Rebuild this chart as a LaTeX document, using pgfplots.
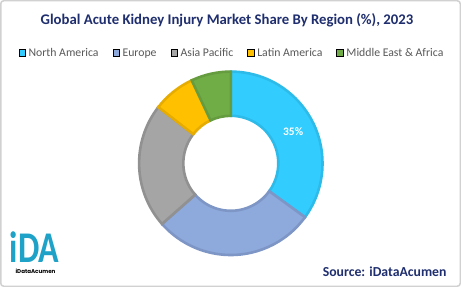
\documentclass[border=0pt]{standalone}
\usepackage{pgfplots}
\pgfplotsset{compat=1.18}
\usepackage{pgfplotstable}
\usepackage{fontspec}
\setmainfont{Carlito}
\newfontfamily\logofont{Poppins}
\definecolor{titleblue}{HTML}{1F2E6E}
\definecolor{legtext}{HTML}{595959}
\definecolor{logoc}{HTML}{1FA2C8}
\definecolor{fill0}{HTML}{33CCFF}\definecolor{line0}{HTML}{2DBBEA}
\definecolor{fill1}{HTML}{8EA9DB}\definecolor{line1}{HTML}{7D96C6}
\definecolor{fill2}{HTML}{A5A5A5}\definecolor{line2}{HTML}{919191}
\definecolor{fill3}{HTML}{FFC000}\definecolor{line3}{HTML}{E6AC00}
\definecolor{fill4}{HTML}{70AD47}\definecolor{line4}{HTML}{659C40}
\pgfplotstableread{
region value
NorthAmerica 35
Europe 28.5
AsiaPacific 22
LatinAmerica 7.5
MiddleEastAfrica 7
}\sharetable
\def\cum{0}%
\foreach \i in {0,...,4}{%
  \pgfplotstablegetelem{\i}{value}\of\sharetable
  \pgfmathsetmacro\angs{90-\cum*3.6}%
  \pgfmathsetmacro\ange{90-(\cum+\pgfplotsretval)*3.6}%
  \expandafter\xdef\csname angA\i\endcsname{\angs}%
  \expandafter\xdef\csname angB\i\endcsname{\ange}%
  \pgfmathsetmacro\newcum{\cum+\pgfplotsretval}%
  \xdef\cum{\newcum}%
}%
\begin{document}
\begin{tikzpicture}
\useasboundingbox (0,0) rectangle (461bp,287bp);
\fill[white] (0,0) rectangle (461bp,287bp);
\draw[black!18, line width=1.5bp, rounded corners=3bp] (0.75bp,0.75bp) rectangle (460.25bp,286.25bp);
\node[font=\bfseries\fontsize{14.8}{17}\selectfont, text=titleblue] at (227bp,266.3bp)
  {Global Acute Kidney Injury Market Share By Region (\%), 2023};
\begin{axis}[
  at={(230.8bp,123.7bp)}, anchor=center,
  hide axis, scale only axis, width=186bp, height=186bp,
  xmin=-1, xmax=1, ymin=-1, ymax=1, clip=false,
  legend columns=5,
  legend image code/.code={\fill[#1] (0bp,-3.3bp) rectangle (6.6bp,3.3bp);},
  legend style={at={(0.505,1.093)}, anchor=center, draw=none, fill=none,
    font=\fontsize{11.8}{13}\selectfont, text=legtext,
    /tikz/every even column/.append style={column sep=12.5bp},
    nodes={inner sep=1.5bp}, legend cell align=left},
  legend style={/tikz/every odd column/.append style={column sep=1.5bp}},
]
\pgfplotsinvokeforeach{0,...,4}{
  \filldraw[fill=fill#1, draw=line#1, line width=2.6bp]
    (axis cs:0,0) ++(\csname angA#1\endcsname:91.7bp)
    arc[start angle=\csname angA#1\endcsname, end angle=\csname angB#1\endcsname, radius=91.7bp]
    -- ++(\csname angB#1\endcsname:-44.2bp)
    arc[start angle=\csname angB#1\endcsname, end angle=\csname angA#1\endcsname, radius=47.5bp]
    -- cycle;
}
\node[text=white, font=\bfseries\fontsize{11.5}{13}\selectfont] at (axis cs:0,0) [shift={(27:70bp)}] {35\%};
\addlegendimage{fill=fill0}\addlegendentry{North America}
\addlegendimage{fill=fill1}\addlegendentry{Europe}
\addlegendimage{fill=fill2}\addlegendentry{Asia Pacific}
\addlegendimage{fill=fill3}\addlegendentry{Latin America}
\addlegendimage{fill=fill4}\addlegendentry{Middle East \& Africa}
\end{axis}
\node[font=\bfseries\fontsize{13.8}{15}\selectfont, text=titleblue, anchor=east] at (450bp,15.7bp) {Source: iDataAcumen};
\node[font=\bfseries\fontsize{20}{22}\selectfont, text=logoc, inner sep=0pt, xscale=1.7, yscale=2.2, anchor=base west] at (9.5bp,25bp) {iDA};
\node[font=\logofont\bfseries\fontsize{5.6}{6}\selectfont, text=black, inner sep=0pt] at (35.5bp,15.8bp) {iDataAcumen};
\end{tikzpicture}
\end{document}
